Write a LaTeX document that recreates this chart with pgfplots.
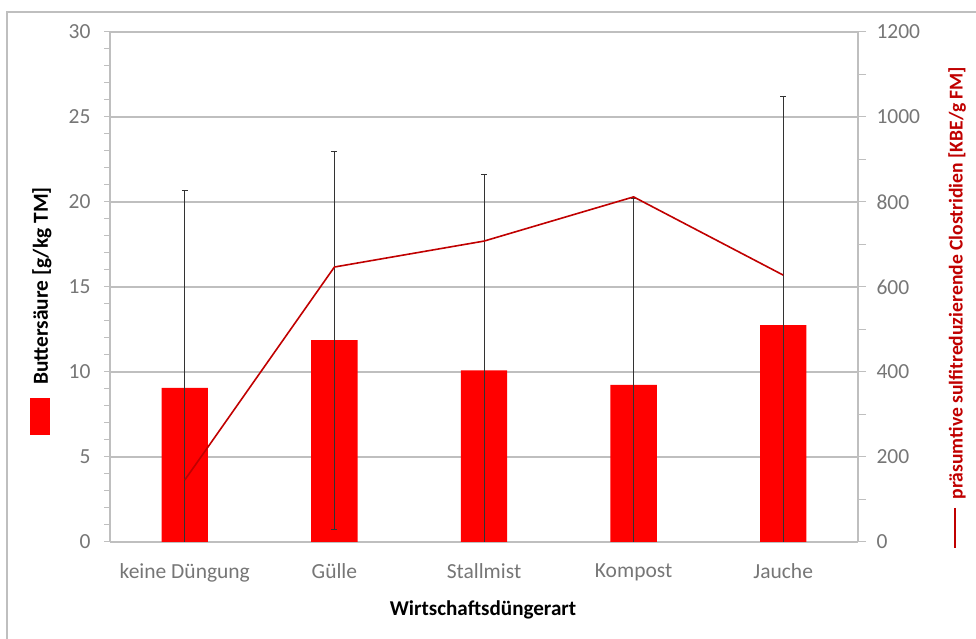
\documentclass[border=0pt]{standalone}
\usepackage{fontspec}
\setmainfont{Carlito}
\usepackage{pgfplots}
\pgfplotsset{compat=1.18}
\definecolor{barred}{RGB}{255,0,0}
\definecolor{linered}{RGB}{192,0,0}
\definecolor{gridgray}{RGB}{191,191,191}
\definecolor{ticklab}{RGB}{118,118,118}
\begin{document}
\begin{tikzpicture}[x=1pt,y=1pt]
\path[use as bounding box] (0,0) rectangle (976,639);
\draw[gridgray, line width=1.5pt] (7,-10) -- (7,627) -- (985,627);
\begin{axis}[
  at={(110pt,97pt)}, anchor=south west,
  width=748pt, height=510pt, scale only axis,
  xmin=-0.5, xmax=4.5, ymin=0, ymax=30,
  axis x line*=bottom, axis y line*=left,
  axis line style={-, gridgray, line width=1.2pt},
  xtick={0,...,4},
  xticklabels={keine Düngung, Gülle, Stallmist, Kompost, Jauche},
  xtick style={draw=none},
  ytick={0,5,...,30}, minor y tick num=4,
  ytick style={gridgray, line width=1pt},
  tick align=outside, major tick length=6pt, minor tick length=6pt,
  ymajorgrids, grid style={gridgray, line width=1.2pt},
  tick label style={font=\fontsize{21.5}{25}\selectfont, text=ticklab},
  xticklabel style={yshift=-12pt},
  yticklabel style={xshift=-10pt},
  /pgf/number format/assume math mode=true,
]
\addplot+[ybar, bar width=0.31, fill=barred, draw=none, mark=none,
  error bars/.cd, y dir=both, y explicit,
  error bar style={black!80, line width=0.8pt},
  error mark options={rotate=90, black!80, mark size=3pt, line width=0.8pt}]
  coordinates {
  (0,9.06) +- (0,11.64)
  (1,11.88) +- (0,11.12)
  (2,10.10) +- (0,11.55)
  (3,9.24) +- (0,10.96)
  (4,12.76) +- (0,13.44)
  };
\end{axis}
\begin{axis}[
  at={(110pt,97pt)}, anchor=south west,
  width=748pt, height=510pt, scale only axis,
  xmin=-0.5, xmax=4.5, ymin=0, ymax=1200,
  axis y line*=right, axis x line=none,
  axis line style={-, gridgray, line width=1.2pt},
  ytick={0,200,...,1200}, minor y tick num=1,
  ytick style={gridgray, line width=1pt},
  tick align=outside, major tick length=8pt, minor tick length=8pt,
  tick label style={font=\fontsize{21.5}{25}\selectfont, text=ticklab},
  yticklabel style={xshift=7pt},
  /pgf/number format/assume math mode=true,
  /pgf/number format/1000 sep={},
]
\addplot[linered, line width=1.6pt, mark=none] coordinates {
  (0,146) (1,647) (2,708) (3,812) (4,628)
};
\end{axis}
\node[rotate=90, font=\bfseries\fontsize{21.4}{25}\selectfont] at (42,353) {Buttersäure [g/kg TM]};
\fill[barred] (30,204) rectangle (50,241);
\node[rotate=90, text=linered, font=\bfseries\fontsize{19.6}{23}\selectfont] at (957,356) {präsumtive sulfitreduzierende Clostridien [KBE/g FM]};
\draw[linered, line width=1.8pt] (955,131) -- (955,91);
\node[font=\bfseries\fontsize{21.1}{25}\selectfont] at (483,29) {Wirtschaftsdüngerart};
\end{tikzpicture}
\end{document}
